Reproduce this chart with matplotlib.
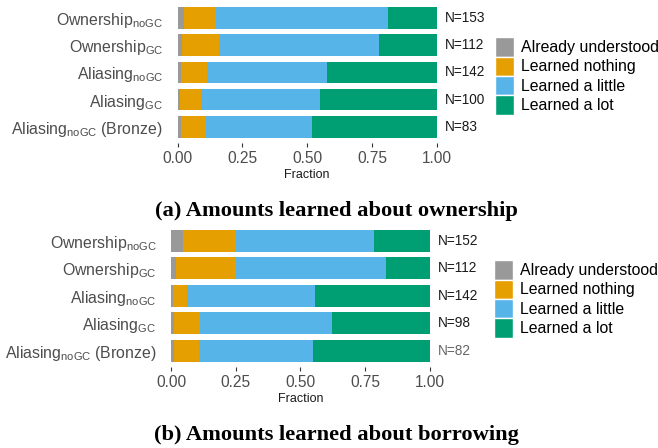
import numpy as np
import matplotlib.pyplot as plt
from matplotlib.patches import Patch

plt.rcParams['font.family'] = ['Liberation Sans', 'DejaVu Sans']
plt.rcParams['mathtext.fontset'] = 'custom'
plt.rcParams['mathtext.rm'] = 'Liberation Sans'
plt.rcParams['mathtext.it'] = 'Liberation Sans:italic'
plt.rcParams['mathtext.bf'] = 'Liberation Sans:bold'

# categories (top to bottom)
labels = [r'Ownership$_\mathrm{noGC}$', r'Ownership$_\mathrm{GC}$',
          r'Aliasing$_\mathrm{noGC}$', r'Aliasing$_\mathrm{GC}$',
          r'Aliasing$_\mathrm{noGC}$ (Bronze)']
levels = ['Already understood', 'Learned nothing', 'Learned a little', 'Learned a lot']
colors = ['#999999', '#E69F00', '#56B4E9', '#009E73']

# response counts per row: already, nothing, little, lot
own_already = [4, 2, 2, 1, 1]
own_nothing = [19, 16, 14, 8, 8]
own_little = [101, 69, 66, 46, 34]
own_lot = [29, 25, 60, 45, 40]

bor_already = [7, 2, 1, 1, 1]
bor_nothing = [31, 26, 8, 10, 8]
bor_little = [81, 65, 70, 50, 36]
bor_lot = [33, 19, 63, 37, 37]

captions = ['(a) Amounts learned about ownership', '(b) Amounts learned about borrowing']

W, H = 658, 448
fig = plt.figure(figsize=(W / 100, H / 100), dpi=100)


def px_axes(left, top, right, bottom):
    return fig.add_axes([left / W, 1 - bottom / H, (right - left) / W, (bottom - top) / H])


def draw_panel(ax, counts, legend_y, legend_x, n_colors):
    counts = np.array(counts, dtype=float)
    totals = counts.sum(axis=0)
    fracs = counts / totals
    y = np.arange(len(labels))
    left = np.zeros(len(labels))
    handles = []
    for i in range(len(levels)):
        ax.barh(y, fracs[i], left=left, height=0.8, color=colors[i], linewidth=0)
        left += fracs[i]
        handles.append(Patch(facecolor=colors[i], edgecolor='white', linewidth=1.0, label=levels[i]))
    for yi, n, c in zip(y, totals, n_colors):
        ax.annotate(f'N={int(n)}', xy=(1.0, yi), xytext=(5.8, 0), textcoords='offset points',
                    va='center', ha='left', fontsize=9.8, color=c)
    ax.set_xlim(0, 1)
    ax.set_ylim(len(labels) - 0.4, -0.6)
    ax.set_yticks(y)
    ax.set_yticklabels(labels)
    ax.set_xticks([0, 0.25, 0.5, 0.75, 1.0])
    ax.set_xticklabels(['0.00', '0.25', '0.50', '0.75', '1.00'])
    ax.tick_params(axis='y', length=0, pad=10.5, labelsize=11.4, labelcolor='#4D4D4D')
    ax.tick_params(axis='x', length=3, width=0.8, color='#333333', pad=2.5,
                   labelsize=11.2, labelcolor='#4D4D4D')
    for s in ax.spines.values():
        s.set_visible(False)
    ax.set_xlabel('Fraction', fontsize=9, color='#1a1a1a', labelpad=2)
    fig.legend(handles=handles, loc='center left',
               bbox_to_anchor=(legend_x / W, 1 - legend_y / H), frameon=False,
               fontsize=11.4, handlelength=1.23, handleheight=1.515, labelspacing=0,
               handletextpad=0.44, borderpad=0, borderaxespad=0)


ax1 = px_axes(177.5, 1.7, 436.7, 143.1)
draw_panel(ax1, [own_already, own_nothing, own_little, own_lot], 76, 494.5, ['#1a1a1a'] * 5)

ax2 = px_axes(171, 224.4, 429.7, 367.3)
draw_panel(ax2, [bor_already, bor_nothing, bor_little, bor_lot], 299, 493.5,
           ['#1a1a1a'] * 4 + ['#666666'])

fig.text(336 / W, 1 - 216 / H, captions[0], ha='center', va='baseline',
         family=['Liberation Serif'], fontweight='bold', fontsize=16.2)
fig.text(336 / W, 1 - 440 / H, captions[1], ha='center', va='baseline',
         family=['Liberation Serif'], fontweight='bold', fontsize=16.2)

fig.savefig('out.png', dpi=100)
